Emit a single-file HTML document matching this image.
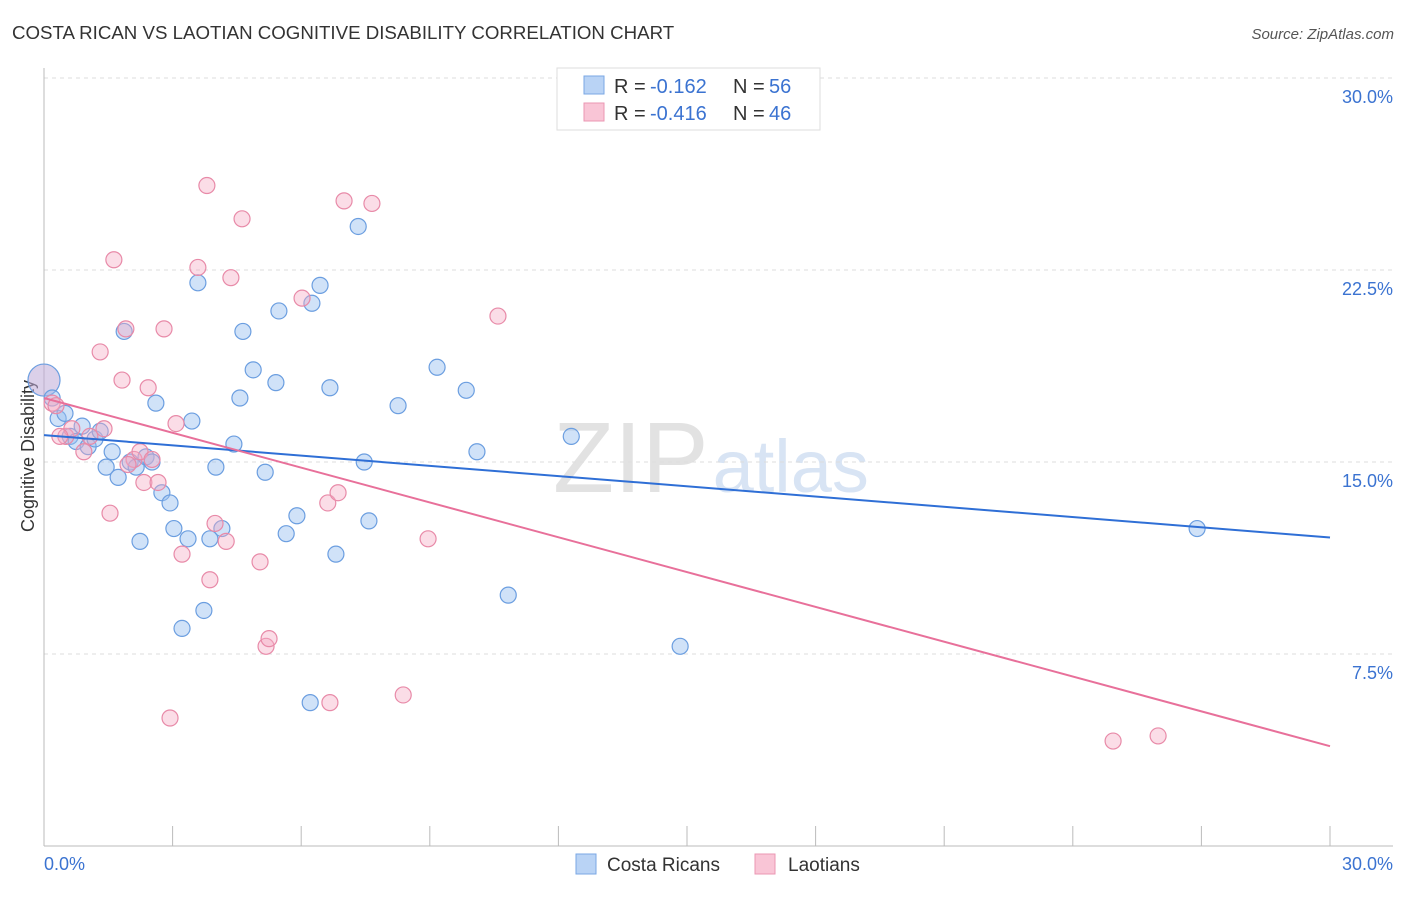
<!DOCTYPE html>
<html><head><meta charset="utf-8"><style>
body{margin:0;background:#fff;font-family:"Liberation Sans",sans-serif;}
svg text{font-family:"Liberation Sans",sans-serif;}
</style></head><body>
<svg id="chart" width="1406" height="892">
<text x="12" y="39" font-size="18.7" fill="#333">COSTA RICAN VS LAOTIAN COGNITIVE DISABILITY CORRELATION CHART</text>
<text x="1394" y="39" font-size="15" fill="#555" font-style="italic" text-anchor="end">Source: ZipAtlas.com</text>
<text x="34" y="456" font-size="18" fill="#333" transform="rotate(-90 34 456)" text-anchor="middle">Cognitive Disability</text>
<text x="553" y="492" font-size="100" fill="#e2e2e2" font-family="Liberation Serif">ZIP<tspan fill="#d8e4f4" font-family="Liberation Sans" font-size="74" dx="4">atlas</tspan></text>
<g id="grid"></g><g id="pts"></g><g id="lines"></g>
<g>
<rect x="557" y="68" width="263" height="62" fill="#fff" stroke="#ddd"/>
<rect x="584" y="76" width="20" height="18" fill="#b9d3f5" stroke="#7aa7e4"/>
<rect x="584" y="103" width="20" height="18" fill="#f9c5d6" stroke="#eb97b3"/>
<text x="614" y="93" font-size="20" fill="#333">R =</text><text x="650" y="93" font-size="20" fill="#3b73d1">-0.162</text>
<text x="733" y="93" font-size="20" fill="#333">N =</text><text x="769" y="93" font-size="20" fill="#3b73d1">56</text>
<text x="614" y="120" font-size="20" fill="#333">R =</text><text x="650" y="120" font-size="20" fill="#3b73d1">-0.416</text>
<text x="733" y="120" font-size="20" fill="#333">N =</text><text x="769" y="120" font-size="20" fill="#3b73d1">46</text>
</g>
<g>
<rect x="576" y="854" width="20" height="20" fill="#b9d3f5" stroke="#7aa7e4"/>
<text x="607" y="871" font-size="19" fill="#333">Costa Ricans</text>
<rect x="755" y="854" width="20" height="20" fill="#f9c5d6" stroke="#eb97b3"/>
<text x="788" y="871" font-size="19" fill="#333">Laotians</text>
</g>
</svg>
<script>
const yTicks=[7.5,15,22.5,30];
const yTickLabels=["7.5%","15.0%","22.5%","30.0%"];
const xTickLabels=["0.0%","30.0%"];
const blueX=[0,0.19,0.33,0.49,0.61,0.75,0.89,1.03,1.19,1.31,1.45,1.59,1.73,2.01,2.15,2.24,2.38,2.52,2.61,2.75,2.94,3.03,3.22,3.36,3.45,3.59,3.73,3.87,4.01,4.15,4.43,4.57,4.64,4.88,5.16,5.41,5.48,5.65,5.90,6.25,6.44,6.21,6.67,6.81,7.33,7.47,7.58,8.26,9.17,9.85,10.10,10.83,12.30,14.84,26.90,1.87];
const blueY=[18.2,17.5,16.7,16.9,16.0,15.8,16.4,15.6,15.9,16.2,14.8,15.4,14.4,15.0,14.8,11.9,15.2,15.0,17.3,13.8,13.4,12.4,8.5,12.0,16.6,22.0,9.2,12.0,14.8,12.4,15.7,17.5,20.1,18.6,14.6,18.1,20.9,12.2,12.9,21.2,21.9,5.6,17.9,11.4,24.2,15.0,12.7,17.2,18.7,17.8,15.4,9.8,16.0,7.8,12.4,20.1];
const pinkX=[0.19,0.28,0.51,0.65,0.93,1.31,1.40,1.54,1.63,1.82,1.91,2.10,2.24,2.33,2.43,2.52,2.66,2.80,2.94,3.08,3.22,3.59,3.80,3.87,3.99,4.25,4.36,4.62,5.04,5.18,5.25,6.02,6.62,6.67,6.86,7.00,7.65,8.38,8.96,10.59,24.94,25.99,1.07,0.37,1.96];
const pinkY=[17.3,17.2,16.0,16.3,15.4,19.3,16.3,13.0,22.9,18.2,20.2,15.1,15.4,14.2,17.9,15.1,14.2,20.2,5.0,16.5,11.4,22.6,25.8,10.4,12.6,11.9,22.2,24.5,11.1,7.8,8.1,21.4,13.4,5.6,13.8,25.2,25.1,5.9,12.0,20.7,4.1,4.3,16.0,16.0,14.9];
const blueLine=[16.05,12.05];
const pinkLine=[17.5,3.9];
const NS="http://www.w3.org/2000/svg";
const X0=44,X1=1330,Y0=846,Y1=78;
const xs=v=>X0+v/30*(X1-X0);
const ys=v=>Y0-v/30*(Y0-Y1);
function mk(t,a,p){const e=document.createElementNS(NS,t);for(const k in a)e.setAttribute(k,a[k]);p.appendChild(e);return e;}
const grid=document.getElementById('grid');
yTicks.forEach((t,i)=>{
 const l=mk('line',{x1:X0,x2:1393,y1:ys(t),y2:ys(t),stroke:'#ddd','stroke-dasharray':'4,4'},grid);
 
 
 const tx=mk('text',{x:1393,y:ys(t)+25,'font-size':18,fill:'#3b73d1','text-anchor':'end'},grid);
 tx.textContent=yTickLabels[i];
 
 
});
const ax=mk('line',{x1:X0,x2:X0,y1:68,y2:Y0,stroke:'#bbb'},grid);


const bx=mk('line',{x1:X0,x2:1393,y1:Y0,y2:Y0,stroke:'#bbb'},grid);


for(let i=0;i<=10;i++){const t=mk('line',{x1:xs(i*3),x2:xs(i*3),y1:826,y2:Y0,stroke:'#bbb'},grid);
 
 }
[[xTickLabels[0],44,'start'],[xTickLabels[1],1393,'end']].forEach(([s,x,a])=>{
 const t=mk('text',{x:x,y:870,'font-size':18,fill:'#3b73d1','text-anchor':a},grid);t.textContent=s;
 
 });
const pts=document.getElementById('pts');
blueX.forEach((v,i)=>{const c=mk('circle',{cx:xs(v),cy:ys(blueY[i]),r:i==0?16:8,fill:i==0?'rgba(190,170,215,0.55)':'rgba(150,190,240,0.45)',stroke:'#6b9ee0','stroke-width':1.2},pts);
 
 });
pinkX.forEach((v,i)=>{const c=mk('circle',{cx:xs(v),cy:ys(pinkY[i]),r:8,fill:'rgba(245,170,195,0.4)',stroke:'#e88aa8','stroke-width':1.2},pts);
 
 });
const lines=document.getElementById('lines');
const b=mk('line',{x1:xs(0),y1:ys(blueLine[0]),x2:xs(30),y2:ys(blueLine[1]),stroke:'#2f6fd6','stroke-width':2},lines);


const p=mk('line',{x1:xs(0),y1:ys(pinkLine[0]),x2:xs(30),y2:ys(pinkLine[1]),stroke:'#e8709a','stroke-width':2},lines);


</script>
</body></html>
